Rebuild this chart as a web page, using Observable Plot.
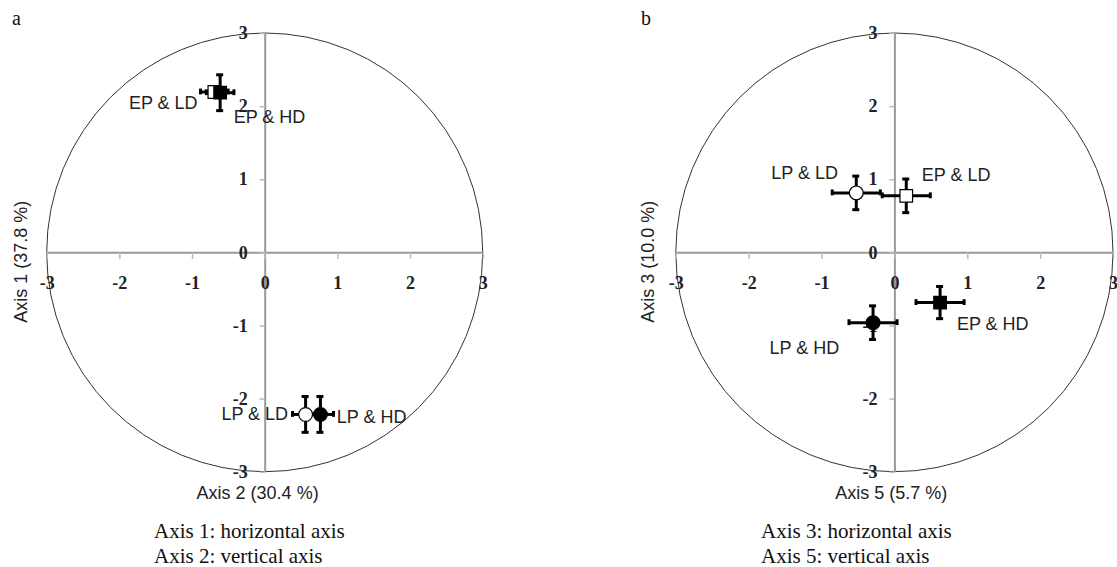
<!DOCTYPE html>
<html><head><meta charset="utf-8">
<script src="https://cdn.jsdelivr.net/npm/d3@7"></script>
<script src="https://cdn.jsdelivr.net/npm/@observablehq/plot@0.6"></script>
<style>
body{margin:0;background:#fff;}
#wrap{position:relative;width:1117px;height:567px;overflow:hidden;background:#fff;}
.panel{position:absolute;top:0;}
.tag{position:absolute;font-family:"Liberation Serif","Times New Roman",serif;font-size:20px;line-height:20px;color:#111;}
.cap{position:absolute;font-family:"Liberation Serif","Times New Roman",serif;font-size:21px;line-height:25px;color:#111;white-space:nowrap;}
</style></head><body><div id="wrap"></div>
<script>
// ---- data ----
const ticks = [-3, -2, -1, 0, 1, 2, 3];
const tickLabels = ["-3", "-2", "-1", "0", "1", "2", "3"];
const groups = ["EP & LD", "EP & HD", "LP & LD", "LP & HD"];

// panel a : Axis 1 (horizontal) x Axis 2 (vertical)
const aX    = [-0.70, -0.62, 0.556, 0.76];
const aY    = [2.20, 2.19, -2.21, -2.21];
const aXerr = [0.19, 0.19, 0.18, 0.18];
const aYerr = [0.06, 0.245, 0.245, 0.245];

// panel b : Axis 3 (horizontal) x Axis 5 (vertical)
const bX    = [0.156, 0.62, -0.53, -0.30];
const bY    = [0.78, -0.68, 0.82, -0.955];
const bXerr = [0.33, 0.33, 0.33, 0.33];
const bYerr = [0.23, 0.22, 0.23, 0.23];

const titles = {
  a: {tag: "a", x: "Axis 2 (30.4 %)", y: "Axis 1 (37.8 %)", cap: ["Axis 1: horizontal axis", "Axis 2: vertical axis"]},
  b: {tag: "b", x: "Axis 5 (5.7 %)", y: "Axis 3 (10.0 %)", cap: ["Axis 3: horizontal axis", "Axis 5: vertical axis"]}
};

// ---- drawing ----
const SANS = "'Liberation Sans', Arial, sans-serif";
const SERIF = "'Liberation Serif', 'Times New Roman', serif";

function panel(cfg) {
  const data = groups.map((g, i) => ({g, x: cfg.xs[i], y: cfg.ys[i], xe: cfg.xerr[i], ye: cfg.yerr[i]}));
  const tickData = ticks.map((v, i) => ({v, s: tickLabels[i]}));
  const circle = (index, scales) => {
    const cx = scales.x(0), cy = scales.y(0);
    const el = document.createElementNS("http://www.w3.org/2000/svg", "ellipse");
    el.setAttribute("cx", cx);
    el.setAttribute("cy", cy);
    el.setAttribute("rx", scales.x(3) - cx);
    el.setAttribute("ry", cy - scales.y(3));
    el.setAttribute("fill", "none");
    el.setAttribute("stroke", "#333");
    el.setAttribute("stroke-width", 1);
    return el;
  };
  const bar = {stroke: "#000", strokeWidth: 3};
  const cap = {stroke: "#000", strokeWidth: 3};
  const labelMarks = groups.map(g => {
    const p = cfg.labelPos[g];
    return Plot.text(data.filter(d => d.g === g), {
      x: "x", y: "y", text: "g", dx: p[0], dy: p[1], textAnchor: p[2],
      fontFamily: SANS, fontSize: 18, fill: "#222"
    });
  });
  const dotStyle = (g) => {
    const sq = g.startsWith("EP");
    const filled = g.endsWith("HD");
    return Plot.dot(data.filter(d => d.g === g), {
      x: "x", y: "y", symbol: sq ? "square" : "circle", r: sq ? 7.1 : 6.9,
      fill: filled ? "#000" : "#fff", stroke: "#000", strokeWidth: 1.2
    });
  };
  return Plot.plot({
    width: cfg.width, height: 510,
    marginLeft: cfg.marginLeft, marginRight: cfg.marginRight, marginTop: 33, marginBottom: 38.3,
    x: {domain: [-3, 3], axis: null},
    y: {domain: [-3, 3], axis: null},
    style: {overflow: "visible", background: "transparent"},
    marks: [
      circle,
      Plot.ruleY([0], {stroke: "#999", strokeWidth: 2}),
      Plot.ruleX([0], {stroke: "#999", strokeWidth: 2}),
      Plot.ruleX(ticks, {x: d => d, y1: 0, y2: -0.09, stroke: "#bbb", strokeWidth: 1.5}),
      Plot.ruleY(ticks, {y: d => d, x1: 0, x2: -0.07, stroke: "#bbb", strokeWidth: 1.5}),
      Plot.text(tickData, {x: "v", y: 0, dy: 30, text: "s", fontFamily: SERIF, fontWeight: "bold", fontSize: 18, fill: "#222"}),
      Plot.text(tickData, {x: 0, y: "v", dx: -17.5, textAnchor: "end", text: "s", fontFamily: SERIF, fontWeight: "bold", fontSize: 18, fill: "#222"}),
      Plot.text([cfg.t.x], {x: 0, y: -3, dy: 21, dx: cfg.xTitleDx, text: d => d, fontFamily: SANS, fontSize: 18, fill: "#222"}),
      Plot.text([cfg.t.y], {frameAnchor: "left", y: 0, dx: cfg.yTitleDx, dy: 9, rotate: -90, textAnchor: "middle", text: d => d, fontFamily: SANS, fontSize: 18, fill: "#222"}),
      // error bars
      Plot.ruleY(data, {y: "y", x1: d => d.x - d.xe, x2: d => d.x + d.xe, ...bar}),
      Plot.ruleX(data, {x: "x", y1: d => d.y - d.ye, y2: d => d.y + d.ye, ...bar}),
      Plot.ruleX(data, {x: d => d.x - d.xe, y1: d => d.y - 0.04, y2: d => d.y + 0.04, ...cap}),
      Plot.ruleX(data, {x: d => d.x + d.xe, y1: d => d.y - 0.04, y2: d => d.y + 0.04, ...cap}),
      Plot.ruleY(data, {y: d => d.y - d.ye, x1: d => d.x - 0.048, x2: d => d.x + 0.048, ...cap}),
      Plot.ruleY(data, {y: d => d.y + d.ye, x1: d => d.x - 0.048, x2: d => d.x + 0.048, ...cap}),
      ...groups.map(dotStyle),
      ...labelMarks
    ]
  });
}

const wrap = document.getElementById("wrap");

const pa = panel({
  xs: aX, ys: aY, xerr: aXerr, yerr: aYerr, t: titles.a,
  width: 558, marginLeft: 46.7, marginRight: 75.3, xTitleDx: -7.6, yTitleDx: -26.2,
  labelPos: {"EP & LD": [-16.7, 11, "end"], "EP & HD": [13.5, 25, "start"], "LP & LD": [-17.5, 0, "end"], "LP & HD": [16.4, 2.7, "start"]}
});
pa.classList.add("panel"); pa.style.left = "0px";
wrap.appendChild(pa);

const pb = panel({
  xs: bX, ys: bY, xerr: bXerr, yerr: bYerr, t: titles.b,
  width: 558, marginLeft: 116.8, marginRight: 4, xTitleDx: -3.6, yTitleDx: -27.8,
  labelPos: {"LP & LD": [-18.2, -19.8, "end"], "EP & LD": [15.6, -21, "start"], "EP & HD": [16.8, 21.3, "start"], "LP & HD": [-33.8, 25.8, "end"]}
});
pb.classList.add("panel"); pb.style.left = "559px";
wrap.appendChild(pb);

function addDiv(cls, text, left, top) {
  const d = document.createElement("div");
  d.className = cls; d.textContent = text;
  d.style.left = left + "px"; d.style.top = top + "px";
  wrap.appendChild(d);
  return d;
}
addDiv("tag", titles.a.tag, 12, 8);
addDiv("tag", titles.b.tag, 641, 8);
const ca = addDiv("cap", "", 154, 519);
ca.innerHTML = titles.a.cap.join("<br>");
const cb = addDiv("cap", "", 761, 519);
cb.innerHTML = titles.b.cap.join("<br>");
</script></body></html>
